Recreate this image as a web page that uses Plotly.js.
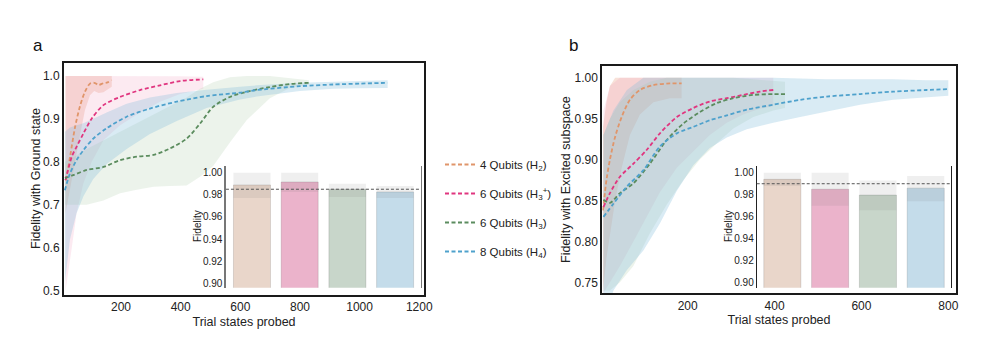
<!DOCTYPE html>
<html>
<head>
<meta charset="utf-8">
<script src="https://cdn.plot.ly/plotly-3.0.1.min.js"></script>
<style>
  body { margin: 0; background: #fff; }
  #chart { width: 1002px; height: 353px; }
</style>
</head>
<body>
<div id="chart"></div>
<script>
// series names (legend)
const names = ['4 Qubits (H<sub>2</sub>)', '6 Qubits (H<sub>3</sub><sup>+</sup>)', '6 Qubits (H<sub>3</sub>)', '8 Qubits (H<sub>4</sub>)'];

// ---- panel a : ground state ----
const aH2_x = [14, 20, 30, 46, 62, 79, 96, 110, 125, 141, 155, 169];
const aH2_mean = [0.757, 0.775, 0.815, 0.881, 0.928, 0.963, 0.982, 0.984, 0.979, 0.983, 0.985, 0.990];
const aH2_hi = [1.0, 1.0, 1.0, 1.0, 1.0, 1.0, 1.0, 1.0, 1.0, 1.0, 1.0, 1.0];
const aH2_lo = [0.68, 0.70, 0.74, 0.80, 0.86, 0.92, 0.955, 0.965, 0.96, 0.962, 0.968, 0.975];

const aH3p_x = [14, 35, 51, 74, 102, 141, 197, 264, 331, 398, 476];
const aH3p_mean = [0.757, 0.812, 0.835, 0.866, 0.901, 0.932, 0.951, 0.967, 0.978, 0.988, 0.992];
const aH3p_hi = [1.0, 1.0, 1.0, 1.0, 1.0, 1.0, 1.0, 1.0, 1.0, 0.999, 0.998];
const aH3p_lo = [0.50, 0.60, 0.68, 0.75, 0.80, 0.85, 0.885, 0.915, 0.94, 0.958, 0.97];

const aH3_x = [12, 40, 85, 141, 197, 253, 309, 364, 420, 465, 509, 565, 621, 699, 766, 830];
const aH3_mean = [0.762, 0.769, 0.781, 0.788, 0.804, 0.812, 0.816, 0.831, 0.854, 0.889, 0.928, 0.951, 0.963, 0.974, 0.981, 0.984];
const aH3_hi = [0.80, 0.81, 0.83, 0.85, 0.87, 0.89, 0.91, 0.93, 0.95, 0.97, 0.985, 0.997, 1.0, 1.0, 0.995, 0.99];
const aH3_lo = [0.70, 0.70, 0.70, 0.71, 0.727, 0.735, 0.742, 0.744, 0.745, 0.765, 0.79, 0.845, 0.897, 0.948, 0.972, 0.98];

const aH4_x = [12, 29, 51, 74, 107, 152, 219, 297, 387, 487, 599, 655, 800, 912, 1000, 1094];
const aH4_mean = [0.734, 0.773, 0.804, 0.827, 0.854, 0.878, 0.905, 0.924, 0.94, 0.953, 0.961, 0.967, 0.976, 0.98, 0.982, 0.984];
const aH4_hi = [0.87, 0.88, 0.885, 0.89, 0.90, 0.915, 0.935, 0.95, 0.96, 0.968, 0.975, 0.978, 0.984, 0.987, 0.988, 0.99];
const aH4_lo = [0.52, 0.62, 0.68, 0.72, 0.76, 0.795, 0.83, 0.865, 0.895, 0.925, 0.945, 0.952, 0.965, 0.97, 0.971, 0.972];

// ---- panel b : excited subspace ----
const bH2_x = [5, 13, 21, 33, 48, 67, 90, 121, 159, 186];
const bH2_mean = [0.838, 0.875, 0.9, 0.928, 0.952, 0.973, 0.985, 0.991, 0.993, 0.993];
const bH2_hi = [0.94, 0.97, 0.99, 1.0, 1.0, 1.0, 1.0, 1.0, 1.0, 1.0];
const bH2_lo = [0.74, 0.78, 0.81, 0.85, 0.89, 0.93, 0.955, 0.97, 0.975, 0.975];

const bH3p_x = [6, 21, 44, 75, 106, 136, 175, 213, 251, 290, 328, 366, 397];
const bH3p_mean = [0.842, 0.859, 0.879, 0.895, 0.912, 0.932, 0.952, 0.963, 0.971, 0.975, 0.979, 0.983, 0.985];
const bH3p_hi = [0.96, 0.99, 1.0, 1.0, 1.0, 1.0, 1.0, 1.0, 1.0, 1.0, 1.0, 1.0, 1.0];
const bH3p_lo = [0.737, 0.75, 0.77, 0.80, 0.83, 0.86, 0.89, 0.91, 0.93, 0.945, 0.955, 0.962, 0.965];

const bH3_x = [6, 21, 44, 75, 113, 152, 190, 228, 267, 305, 351, 397, 424];
const bH3_mean = [0.851, 0.847, 0.859, 0.871, 0.895, 0.924, 0.944, 0.958, 0.969, 0.975, 0.979, 0.98, 0.98];
const bH3_hi = [0.93, 0.95, 0.97, 0.985, 0.995, 1.0, 1.0, 1.0, 1.0, 1.0, 0.998, 0.996, 0.995];
const bH3_lo = [0.74, 0.74, 0.75, 0.77, 0.81, 0.845, 0.875, 0.9, 0.92, 0.938, 0.952, 0.96, 0.963];

const bH4_x = [6, 29, 60, 98, 136, 175, 213, 251, 290, 336, 397, 459, 520, 597, 673, 750, 800];
const bH4_mean = [0.83, 0.846, 0.867, 0.887, 0.916, 0.932, 0.94, 0.948, 0.954, 0.961, 0.967, 0.973, 0.977, 0.98, 0.983, 0.985, 0.986];
const bH4_hi = [0.93, 0.96, 0.985, 1.0, 1.0, 1.0, 1.0, 1.0, 1.0, 1.0, 1.0, 0.999, 0.998, 0.998, 0.998, 0.997, 0.997];
const bH4_lo = [0.70, 0.74, 0.765, 0.789, 0.822, 0.862, 0.893, 0.914, 0.927, 0.937, 0.945, 0.952, 0.959, 0.967, 0.973, 0.976, 0.978];

// ---- insets: final fidelity per system ----
const insetCats = [0, 1, 2, 3];
const insetA_mean = [0.9889, 0.9916, 0.985, 0.9826];
const insetA_lo = [0.977, 0.9826, 0.978, 0.977];
const insetA_hi = [1.0, 1.0, 0.990, 0.988];
const insetA_ref = 0.985;

const insetB_mean = [0.994, 0.985, 0.9797, 0.986];
const insetB_lo = [0.988, 0.970, 0.966, 0.974];
const insetB_hi = [1.0, 1.0, 0.993, 0.997];
const insetB_ref = 0.990;

const lineColors = ['#e0956a', '#e0357f', '#5b8c5e', '#4ea1cc'];
const fillColors = ['rgba(226,140,105,0.25)', 'rgba(236,140,180,0.18)', 'rgba(170,200,165,0.22)', 'rgba(130,190,220,0.3)'];
const barColors = ['#e9d6ca', '#ebb3cb', '#c8d6ca', '#c4dcea'];

function band(x, lo, hi, color, xa, ya) {
  return {
    x: x.concat(x.slice().reverse()),
    y: hi.concat(lo.slice().reverse()),
    mode: 'lines', fill: 'toself', fillcolor: color,
    line: {width: 0}, hoverinfo: 'skip', showlegend: false,
    xaxis: xa, yaxis: ya
  };
}

function meanLine(x, y, i, xa, ya, legend) {
  return {
    x: x, y: y, mode: 'lines', name: names[i],
    line: {color: lineColors[i], width: 1.8, dash: '4px,2.5px', shape: 'spline', smoothing: 0.8},
    legendgroup: 'g' + i, showlegend: legend,
    xaxis: xa, yaxis: ya
  };
}

const panelA = [
  [aH2_x, aH2_mean, aH2_lo, aH2_hi],
  [aH3p_x, aH3p_mean, aH3p_lo, aH3p_hi],
  [aH3_x, aH3_mean, aH3_lo, aH3_hi],
  [aH4_x, aH4_mean, aH4_lo, aH4_hi]
];
const panelB = [
  [bH2_x, bH2_mean, bH2_lo, bH2_hi],
  [bH3p_x, bH3p_mean, bH3p_lo, bH3p_hi],
  [bH3_x, bH3_mean, bH3_lo, bH3_hi],
  [bH4_x, bH4_mean, bH4_lo, bH4_hi]
];

const data = [];
panelA.forEach((s, i) => data.push(band(s[0], s[2], s[3], fillColors[i], 'x', 'y')));
panelB.forEach((s, i) => data.push(band(s[0], s[2], s[3], fillColors[i], 'x2', 'y2')));
panelA.forEach((s, i) => data.push(meanLine(s[0], s[1], i, 'x', 'y', true)));
panelB.forEach((s, i) => data.push(meanLine(s[0], s[1], i, 'x2', 'y2', false)));

function insetBars(mean, lo, hi, xa, ya) {
  return [
    {type: 'bar', x: insetCats, y: mean, width: 0.776, xaxis: xa, yaxis: ya,
     marker: {color: barColors, line: {color: 'rgba(0,0,0,0.12)', width: 1}},
     showlegend: false, hoverinfo: 'skip'},
    {type: 'bar', x: insetCats, y: hi.map((h, k) => h - lo[k]), base: lo, width: 0.776,
     xaxis: xa, yaxis: ya, marker: {color: 'rgba(110,110,110,0.11)', line: {width: 0}},
     showlegend: false, hoverinfo: 'skip'}
  ];
}
data.push(...insetBars(insetA_mean, insetA_lo, insetA_hi, 'x3', 'y3'));
data.push(...insetBars(insetB_mean, insetB_lo, insetB_hi, 'x4', 'y4'));

const fontFam = 'Arial, "Liberation Sans", sans-serif';
const boxAxis = {showline: true, mirror: true, linecolor: '#1a1a1a', linewidth: 2,
  ticks: '', showgrid: false, zeroline: false, tickfont: {size: 12}};
const insetY = {showgrid: false, zeroline: false, ticks: '', showline: true, mirror: true,
  tickvals: [0.90, 0.92, 0.94, 0.96, 0.98, 1.00], tickformat: '.2f', tickfont: {size: 10}};
const insetX = {visible: false, showgrid: false, zeroline: false};

// y titles placed as paper annotations so they sit where the reference has them
function yTitle(text, px, py, size) {
  return {text: text, xref: 'paper', yref: 'paper', x: px / 1002, y: 1 - py / 353,
    xanchor: 'center', yanchor: 'middle', textangle: -90, showarrow: false,
    font: {size: size, color: '#222'}};
}

const layout = {
  width: 1002, height: 353,
  margin: {l: 0, r: 0, t: 0, b: 0},
  paper_bgcolor: '#fff', plot_bgcolor: 'rgba(0,0,0,0)',
  font: {family: fontFam, color: '#222', size: 13},
  barmode: 'overlay',
  xaxis: Object.assign({}, boxAxis, {domain: [0.0639, 0.4232], range: [9, 1216], anchor: 'y',
    tickvals: [200, 400, 600, 800, 1000, 1200],
    title: {text: 'Trial states probed', standoff: 4, font: {size: 12.5}}}),
  yaxis: Object.assign({}, boxAxis, {domain: [0.1643, 0.8215], range: [0.49, 1.03], anchor: 'x',
    tickvals: [0.5, 0.6, 0.7, 0.8, 0.9, 1.0], tickformat: '.1f'}),
  xaxis2: Object.assign({}, boxAxis, {domain: [0.6011, 0.9538], range: [3.4, 817], anchor: 'y2',
    tickvals: [200, 400, 600, 800],
    title: {text: 'Trial states probed', standoff: 4, font: {size: 12.5}}}),
  yaxis2: Object.assign({}, boxAxis, {domain: [0.1691, 0.813], range: [0.7366, 1.0143], anchor: 'x2',
    tickvals: [0.75, 0.80, 0.85, 0.90, 0.95, 1.00], tickformat: '.2f'}),
  xaxis3: Object.assign({}, insetX, {domain: [0.2255, 0.4199], range: [-0.545, 3.537], anchor: 'y3'}),
  yaxis3: Object.assign({}, insetY, {domain: [0.185, 0.5297], range: [0.896, 1.006], anchor: 'x3',
    linecolor: '#777', linewidth: 1.5}),
  xaxis4: Object.assign({}, insetX, {domain: [0.7552, 0.9491], range: [-0.536, 3.529], anchor: 'y4'}),
  yaxis4: Object.assign({}, insetY, {domain: [0.185, 0.5297], range: [0.8955, 1.0061], anchor: 'x4',
    linecolor: '#222', linewidth: 1}),
  shapes: [
    {type: 'line', xref: 'x3 domain', yref: 'y3', x0: 0, x1: 1, y0: insetA_ref, y1: insetA_ref,
     line: {color: '#555', width: 1, dash: '3px,2px'}},
    {type: 'line', xref: 'x4 domain', yref: 'y4', x0: 0, x1: 1, y0: insetB_ref, y1: insetB_ref,
     line: {color: '#555', width: 1, dash: '3px,2px'}}
  ],
  annotations: [
    {text: 'a', xref: 'paper', yref: 'paper', x: 38 / 1002, y: 1 - 45 / 353, xanchor: 'center', yanchor: 'middle',
     showarrow: false, font: {size: 17, color: '#111'}},
    {text: 'b', xref: 'paper', yref: 'paper', x: 573 / 1002, y: 1 - 46 / 353, xanchor: 'center', yanchor: 'middle',
     showarrow: false, font: {size: 17, color: '#111'}},
    yTitle('Fidelity with Ground state', 36, 179, 12.5),
    yTitle('Fidelity with Excited subspace', 566, 180, 12.5),
    yTitle('Fidelity', 197, 226, 10),
    yTitle('Fidelity', 728, 226, 10)
  ],
  showlegend: true,
  legend: {x: 440 / 1002, y: 1 - 150 / 353, xanchor: 'left', yanchor: 'top',
    font: {size: 11.5, color: '#222'}, traceorder: 'grouped', tracegroupgap: 10,
    bgcolor: 'rgba(0,0,0,0)', itemwidth: 30}
};

Plotly.newPlot('chart', data, layout, {displayModeBar: false, staticPlot: true});
</script>
</body>
</html>
